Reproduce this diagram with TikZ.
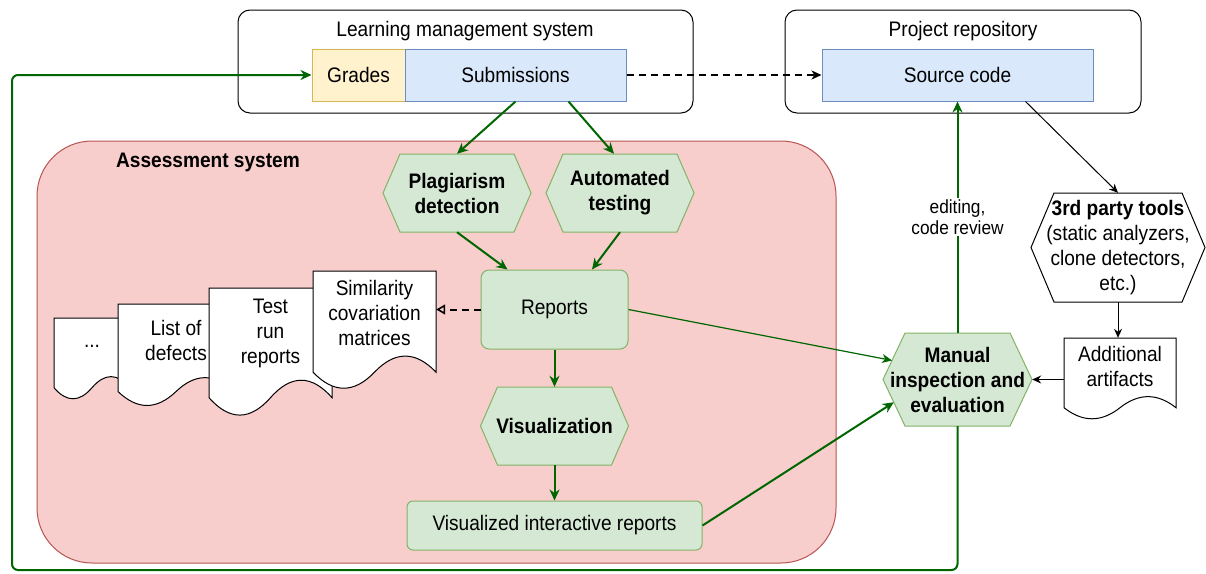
\documentclass[tikz,border=0pt]{standalone}
\usepackage{fontspec}
\setmainfont{Liberation Sans}[FakeStretch=0.91]
\usetikzlibrary{arrows.meta,calc}
\definecolor{gF}{HTML}{D5E8D4}\definecolor{gS}{HTML}{82B366}
\definecolor{bF}{HTML}{DAE8FC}\definecolor{bS}{HTML}{6C8EBF}
\definecolor{yF}{HTML}{FFF2CC}\definecolor{yS}{HTML}{D6B656}
\definecolor{rF}{HTML}{F8CECC}\definecolor{rS}{HTML}{B85450}
\definecolor{dG}{HTML}{006600}
\tikzset{
  base/.style={font=\fontsize{21}{25}\selectfont, inner sep=0pt, align=center, text=black},
  boldtext/.style={base, font=\fontsize{21}{25}\selectfont\bfseries},
  lab/.style={font=\fontsize{19}{21}\selectfont, inner sep=1.5pt, align=center, fill=white, text=black},
  cont/.style={base, draw=black, line width=1pt, rounded corners=12, fill=white},
  bluebox/.style={base, draw=bS, fill=bF, line width=1pt},
  yellowbox/.style={base, draw=yS, fill=yF, line width=1pt},
  redbox/.style={base, draw=rS, fill=rF, line width=1pt},
  greenbox/.style={base, draw=gS, fill=gF, line width=1pt},
  greenhex/.style={draw=gS, fill=gF, line width=1pt},
  whitehex/.style={draw=black, fill=white, line width=1pt},
  docshape/.style={draw=black, fill=white, line width=1pt},
  garrow/.style={draw=dG, line width=2pt, -{Stealth[length=11pt,width=10pt,inset=3.5pt]}},
  gthin/.style={draw=dG, line width=1.2pt, -{Stealth[length=10pt,width=9pt,inset=3pt]}},
  barrow/.style={draw=black, line width=1pt, -{Stealth[length=9pt,width=8pt,inset=3pt]}},
  dasharrow/.style={draw=black, line width=2pt, dash pattern=on 7pt off 5pt, -{Stealth[length=10pt,width=9pt,inset=3pt]}},
  dashopen/.style={draw=black, line width=2pt, dash pattern=on 7pt off 5pt, -{Triangle[open,length=9pt,width=10pt,line width=1.6pt]}},
}
% hexagon: name, style, cx, cy, w, h, slant, text
\newcommand\hexa[8]{%
  \pgfmathsetmacro\hxL{#3-#5/2}\pgfmathsetmacro\hxR{#3+#5/2}%
  \pgfmathsetmacro\hxT{#4-#6/2}\pgfmathsetmacro\hxB{#4+#6/2}%
  \filldraw[#2] (\hxL,#4) coordinate (#1-w) -- (\hxL+#7,\hxT) coordinate (#1-nw)
     -- (\hxR-#7,\hxT) coordinate (#1-ne) -- (\hxR,#4) coordinate (#1-e)
     -- (\hxR-#7,\hxB) coordinate (#1-se) -- (\hxL+#7,\hxB) coordinate (#1-sw) -- cycle;
  \node[base, minimum width=#5, minimum height=#6] (#1) at (#3,#4) {#8};
}
% document: name, left, top, w, h, text
\newcommand\docu[6]{%
  \pgfmathsetmacro\dcL{#2}\pgfmathsetmacro\dcT{#3}%
  \pgfmathsetmacro\dcW{#4}\pgfmathsetmacro\dcH{#5}%
  \pgfmathsetmacro\dcD{0.3*\dcH}%
  \pgfmathsetmacro\dcB{\dcT+\dcH-\dcD/2}%
  \filldraw[docshape] (\dcL,\dcT) -- (\dcL+\dcW,\dcT) -- (\dcL+\dcW,\dcB)
     .. controls (\dcL+5*\dcW/6,\dcB-0.6*\dcD) and (\dcL+2*\dcW/3,\dcB-0.6*\dcD) .. (\dcL+\dcW/2,\dcB)
     .. controls (\dcL+\dcW/3,\dcB+0.6*\dcD) and (\dcL+\dcW/6,\dcB+0.6*\dcD) .. (\dcL,\dcB) -- cycle;
  \node[base, minimum width=#4, minimum height=\dcH-\dcD] (#1) at (\dcL+\dcW/2,\dcT+\dcH/2-\dcD/2) {#6};
}
\begin{document}
\begin{tikzpicture}[x=1pt,y=-1pt]
\useasboundingbox[fill=white] (0,0) rectangle (1206,573);

% Learning management system
\node[cont, minimum width=455, minimum height=103] (lms) at (465.5,61.5) {};
\node[base] (lmst) at (465,31) {Learning management system};
\node[yellowbox, minimum width=93, minimum height=52] (gr) at (358.5,75) {Grades};
\node[bluebox, minimum width=221, minimum height=52] (sub) at (515.5,75) {Submissions};

% Project repository
\node[cont, minimum width=356, minimum height=103] (repo) at (963,61.5) {};
\node[base] (repot) at (963,31) {Project repository};
\node[bluebox, minimum width=271, minimum height=52] (src) at (957.5,75) {Source code};

% Assessment system
\node[redbox, rounded corners=55, minimum width=799, minimum height=422] (asys) at (436.5,352) {};
\node[boldtext] (asyst) at (208,162) {Assessment system};

\hexa{plag}{greenhex}{457}{193}{148}{78}{17}{\textbf{Plagiarism}\\\textbf{detection}}
\hexa{auto}{greenhex}{620}{193}{148}{78}{17}{\textbf{Automated}\\\textbf{testing}}
\node[greenbox, rounded corners=8, minimum width=147, minimum height=79] (rep) at (554.5,309.5) {Reports};
\hexa{vis}{greenhex}{554.5}{426}{148}{78}{17}{\textbf{Visualization}}
\node[greenbox, rounded corners=6, minimum width=295, minimum height=49] (vir) at (554.5,525.5) {Visualized interactive reports};

\docu{dots}{54}{318}{76}{82}{...}
\docu{lod}{118}{304}{116}{103}{List of\\defects}
\docu{trr}{209}{288}{123}{129}{Test\\run\\reports}
\docu{sim}{313}{271}{123}{119}{Similarity\\covariation\\matrices}

% right side
\hexa{man}{greenhex}{957.5}{379.5}{149}{93}{22}{\textbf{Manual}\\\textbf{inspection and}\\\textbf{evaluation}}
\hexa{tools}{whitehex}{1118}{247.5}{174}{109}{23}{\textbf{3rd party tools}\\(static analyzers,\\clone detectors,\\etc.)}
\docu{add}{1064}{338}{112}{82}{Additional\\artifacts}

% connectors
\coordinate (loopc) at (12,570);
\draw[garrow, rounded corners=6] (man.south) |- (loopc) |- (gr.west);
\draw[dasharrow] (sub.east) -- (src.west);
\draw[garrow] (sub.south) -- (plag.north);
\draw[garrow] ([xshift=53]sub.south) -- ([xshift=-6]auto.north);
\draw[garrow] (plag.south) -- ([xshift=-47]rep.north);
\draw[garrow] (auto.south) -- ([xshift=37.5]rep.north);
\draw[garrow] (rep.south) -- (vis.north);
\draw[garrow] (vis.south) -- (vir.north);
\draw[dashopen] (rep.west) -- (rep.west -| sim.east);
\draw[gthin] (rep.east) -- ($(man-w)!0.41!(man-nw)$);
\draw[garrow] (vir.east) -- ($(man-w)!0.49!(man-sw)$);
\draw[garrow] (man.north) -- node[lab] (edlab) {editing,\\code review} (src.south);
\draw[barrow] ($(src.south)!0.5!(src.south east)$) -- (tools.north);
\draw[barrow] (tools.south) -- (tools.south |- add.north);
\draw[barrow] (man.east -| add.west) -- (man.east);
\end{tikzpicture}
\end{document}
